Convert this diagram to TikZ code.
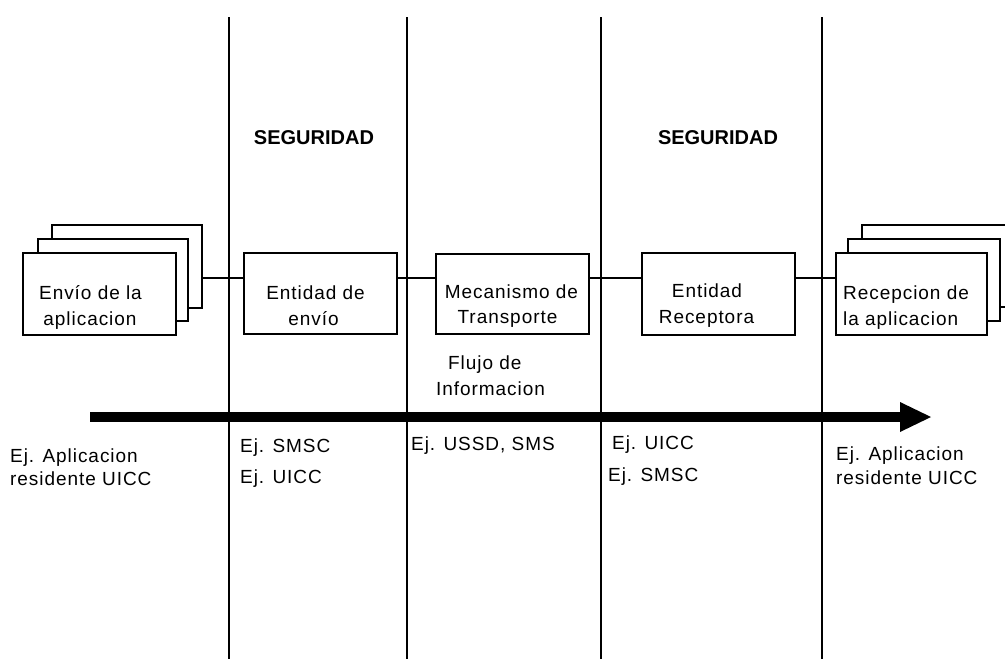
\documentclass[tikz,border=0pt]{standalone}
\usepackage{fontspec}
\setmainfont{Liberation Sans}[LetterSpace=5]
\usetikzlibrary{arrows.meta}
\begin{document}
\begin{tikzpicture}[x=1pt,y=-1pt,
  box/.style={draw, line width=1.5pt, fill=white, inner sep=0pt, anchor=north west},
  lbl/.style={inner sep=0pt, anchor=base, font=\fontsize{19}{23}\selectfont},
  lblw/.style={inner sep=0pt, anchor=base west, font=\fontsize{19}{23}\selectfont},
  seg/.style={inner sep=0pt, anchor=base, font=\fontsize{20}{24}\selectfont\bfseries\addfontfeature{LetterSpace=0}},
  sep/.style={line width=1.5pt},
  conn/.style={line width=1.5pt},
  flow/.style={line width=10pt, -{Triangle[length=31pt,width=30pt,line width=0pt]}}
]
\useasboundingbox (0,0) rectangle (1005,659);
\fill[white] (0,0) rectangle (1005,659);
\clip (0,0) rectangle (1005,659);

% vertical separators
\foreach \xx/\nm in {229/a,407/b,601/c,822/d}{
  \coordinate (top\nm) at (\xx,17);
  \coordinate (bot\nm) at (\xx,659);
  \draw[sep] (top\nm) -- (bot\nm);
}

% flow arrow
\coordinate (flowstart) at (90,417);
\coordinate (flowend) at (931,417);
\draw[flow] (flowstart) -- (flowend);

% left stack
\node[box, minimum width=150pt, minimum height=83pt] (lb3) at (51,224) {};
\node[box, minimum width=150pt, minimum height=82pt] (lb2) at (37,238) {};
\node[box, minimum width=153pt, minimum height=82pt] (lb1) at (22,252) {};
% middle boxes
\node[box, minimum width=153pt, minimum height=81pt] (envio) at (243,252) {};
\node[box, minimum width=153pt, minimum height=80pt] (mec) at (435,253) {};
\node[box, minimum width=153pt, minimum height=82pt] (recep) at (641,252) {};
% right stack
\node[box, minimum width=160pt, minimum height=82pt] (rb3) at (861,224) {};
\node[box, minimum width=152pt, minimum height=82pt] (rb2) at (847,238) {};
\node[box, minimum width=151pt, minimum height=82pt] (rb1) at (835,252) {};

% connectors
\coordinate (ly) at (0,278);
\draw[conn] (lb3.east |- ly) -- (envio.west |- ly);
\draw[conn] (envio.east |- ly) -- (mec.west |- ly);
\draw[conn] (mec.east |- ly) -- (recep.west |- ly);
\draw[conn] (recep.east |- ly) -- (rb1.west |- ly);

% box texts
\node[lbl] (t1a) at (90.5,299) {Envío de la};
\node[lbl] (t1b) at (90,325) {aplicacion};
\node[lbl] (t2a) at (315.5,299) {Entidad de};
\node[lbl] (t2b) at (313.5,325) {envío};
\node[lbl] (t3a) at (511.5,298) {Mecanismo de};
\node[lbl] (t3b) at (507.5,323) {Transporte};
\node[lbl] (t4a) at (707,297) {Entidad};
\node[lbl] (t4b) at (706.5,323) {Receptora};
\node[lblw] (t5a) at (843,299) {Recepcion de};
\node[lblw] (t5b) at (843,325) {la aplicacion};

% headings
\node[seg] (seg1) at (314,144) {SEGURIDAD};
\node[seg] (seg2) at (718,144) {SEGURIDAD};

% flow label
\node[lblw] (fl1) at (448,369) {Flujo de};
\node[lblw] (fl2) at (436,395) {Informacion};

% examples
\node[lblw] (e1a) at (10,462) {Ej. Aplicacion};
\node[lblw] (e1b) at (10,485) {residente UICC};
\node[lblw] (e2a) at (240,452) {Ej. SMSC};
\node[lblw] (e2b) at (240,483) {Ej. UICC};
\node[lblw] (e3a) at (411,450) {Ej. USSD, SMS};
\node[lblw] (e4a) at (612,449) {Ej. UICC};
\node[lblw] (e4b) at (608,481) {Ej. SMSC};
\node[lblw] (e5a) at (836,460) {Ej. Aplicacion};
\node[lblw] (e5b) at (836,484) {residente UICC};
\end{tikzpicture}
\end{document}
